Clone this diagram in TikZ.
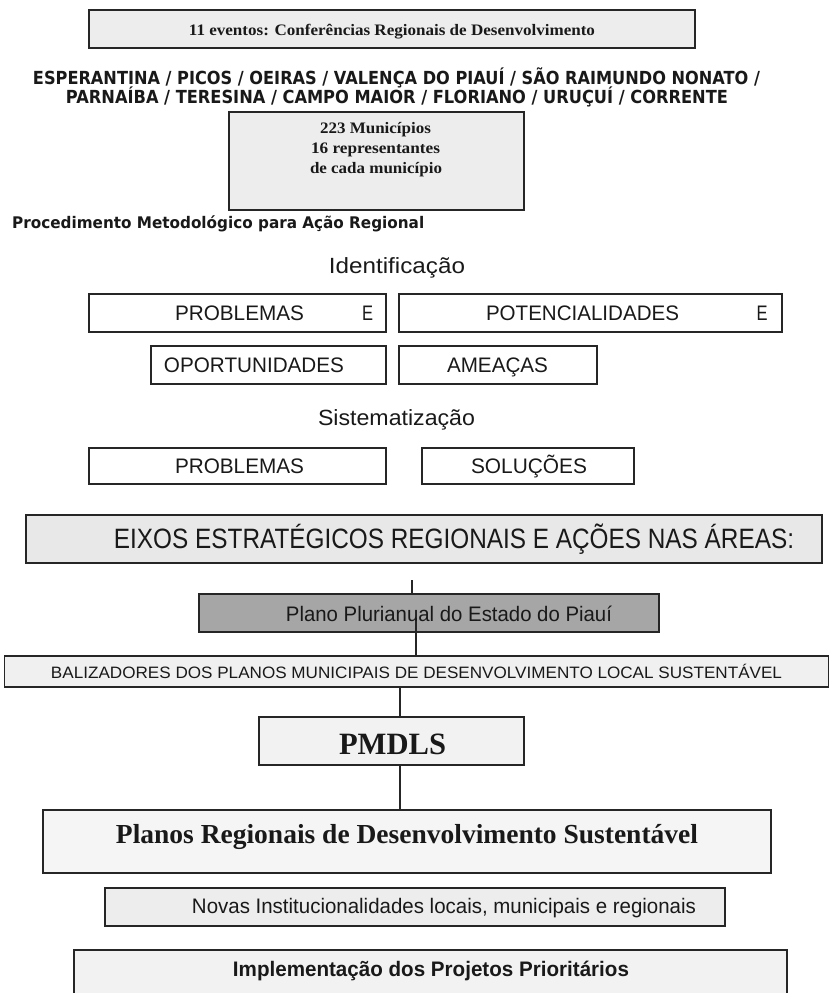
\documentclass[tikz,border=0pt]{standalone}
\usepackage{fontspec}
\usepackage{graphicx}
\newfontfamily\serifb{Liberation Serif}
\newfontfamily\sansf{Liberation Sans}
\newfontfamily\djv{DejaVu Sans}
\newcommand\fitw[2]{\resizebox{#1}{\height}{#2}}
\newcommand\fs[1]{\fontsize{#1}{#1}\selectfont}
\tikzset{
  mybox/.style={draw=black!85, line width=1.3pt, inner sep=0pt, fill=#1},
  mybox/.default=white,
  txt/.style={inner sep=0pt, anchor=base, text=black!90},
  conn/.style={draw=black!85, line width=1.2pt}
}
\begin{document}
\begin{tikzpicture}[x=1pt,y=-1pt]
\useasboundingbox[fill=white] (0,0) rectangle (830,993);
% boxes
\node[mybox=black!7, minimum width=606pt, minimum height=38pt] (b1) at (392,29) {};
\node[mybox=black!7, minimum width=295pt, minimum height=98pt] (b223) at (376.5,161) {};
\node[mybox, minimum width=297pt, minimum height=38pt] (r1a) at (237.5,313) {};
\node[mybox, minimum width=383pt, minimum height=38pt] (r1b) at (590.5,313) {};
\node[mybox, minimum width=235pt, minimum height=38pt] (r2a) at (268.5,365) {};
\node[mybox, minimum width=198pt, minimum height=38pt] (r2b) at (498,365) {};
\node[mybox, minimum width=297pt, minimum height=36pt] (r3a) at (237.5,466) {};
\node[mybox, minimum width=212pt, minimum height=36pt] (r3b) at (528,466) {};
\node[mybox=black!9, minimum width=796pt, minimum height=48pt] (eixos) at (424,539) {};
\node[mybox=black!35, minimum width=460pt, minimum height=38pt] (plano) at (429,613) {};
\node[mybox=black!6, minimum width=824pt, minimum height=31pt] (baliz) at (416.5,671.5) {};
\node[mybox=black!5, minimum width=265pt, minimum height=48pt] (pmdls) at (391.5,741) {};
\node[mybox=black!4, minimum width=728pt, minimum height=63pt] (planos) at (407,841.5) {};
\node[mybox=black!7, minimum width=620pt, minimum height=38pt] (novas) at (415,907) {};
\begin{scope}
\clip (0,0) rectangle (830,993);
\node[mybox=black!5, minimum width=713pt, minimum height=60pt] (impl) at (430.5,980) {};
\end{scope}
% connectors
\coordinate (c1) at (412,580);
\draw[conn] (c1) -- (c1 |- plano.north);
\coordinate (c2) at (416,618);
\draw[conn] (c2) -- (c2 |- baliz.north);
\coordinate (c3) at (400,687);
\draw[conn] (c3 |- baliz.south) -- (c3 |- pmdls.north);
\coordinate (c4) at (400,765);
\draw[conn] (c4 |- pmdls.south) -- (c4 |- planos.north);
% texts
\node[txt, font=\serifb\bfseries\fs{16}] (t1) at (392,35.3) {\fitw{406pt}{11 eventos: Conferências Regionais de Desenvolvimento}};
\node[txt, font=\djv\bfseries\fs{18}] (cit1) at (396.5,84.5) {\fitw{727pt}{ESPERANTINA / PICOS / OEIRAS / VALENÇA DO PIAUÍ / SÃO RAIMUNDO NONATO /}};
\node[txt, font=\djv\bfseries\fs{18}] (cit2) at (397,103.5) {\fitw{662pt}{PARNAÍBA / TERESINA / CAMPO MAIOR / FLORIANO / URUÇUÍ / CORRENTE}};
\node[txt, font=\serifb\bfseries\fs{16}] (m1) at (375.5,133.3) {\fitw{111pt}{223 Municípios}};
\node[txt, font=\serifb\bfseries\fs{16}] (m2) at (375.5,153.3) {\fitw{129pt}{16 representantes}};
\node[txt, font=\serifb\bfseries\fs{16}] (m3) at (376,173.3) {\fitw{132pt}{de cada município}};
\node[txt, anchor=base west, font=\djv\bfseries\fs{16}] (proc) at (12,228.8) {\fitw{412pt}{Procedimento Metodológico para Ação Regional}};
\node[txt, font=\sansf\fs{22}] (ident) at (397,273) {\fitw{136pt}{Identificação}};
\node[txt, font=\sansf\fs{21}] (p1) at (239.5,320.5) {\fitw{129pt}{PROBLEMAS}};
\node[txt, font=\sansf\fs{21}] (e1) at (367.5,320.5) {\fitw{11pt}{E}};
\node[txt, font=\sansf\fs{21}] (pot) at (582.5,320.5) {\fitw{193pt}{POTENCIALIDADES}};
\node[txt, font=\sansf\fs{21}] (e2) at (762,320.5) {\fitw{11pt}{E}};
\node[txt, font=\sansf\fs{21}] (opo) at (254,372.5) {\fitw{180pt}{OPORTUNIDADES}};
\node[txt, font=\sansf\fs{21}] (ame) at (497.5,372.5) {\fitw{101pt}{AMEAÇAS}};
\node[txt, font=\sansf\fs{22}] (sist) at (396.5,425) {\fitw{157pt}{Sistematização}};
\node[txt, font=\sansf\fs{21}] (p2) at (239.5,473.5) {\fitw{129pt}{PROBLEMAS}};
\node[txt, font=\sansf\fs{21}] (sol) at (529,473.5) {\fitw{116pt}{SOLUÇÕES}};
\node[txt, font=\sansf\fs{28}] (eixt) at (454,548) {\fitw{680pt}{EIXOS ESTRATÉGICOS REGIONAIS E AÇÕES NAS ÁREAS:}};
\node[txt, font=\sansf\fs{21}] (plt) at (449,621) {\fitw{326pt}{Plano Plurianual do Estado do Piauí}};
\node[txt, font=\sansf\fs{16.5}] (balt) at (416.5,678) {\fitw{731pt}{BALIZADORES DOS PLANOS MUNICIPAIS DE DESENVOLVIMENTO LOCAL SUSTENTÁVEL}};
\node[txt, font=\serifb\bfseries\fs{31}] (pmt) at (392.5,754) {\fitw{107pt}{PMDLS}};
\node[txt, font=\serifb\bfseries\fs{27.5}] (prt) at (407,843) {\fitw{582pt}{Planos Regionais de Desenvolvimento Sustentável}};
\node[txt, font=\sansf\fs{21}] (nvt) at (444,913.5) {\fitw{504pt}{Novas Institucionalidades locais, municipais e regionais}};
\node[txt, font=\sansf\bfseries\fs{21}] (imt) at (431,976.5) {\fitw{396pt}{Implementação dos Projetos Prioritários}};
\end{tikzpicture}
\end{document}
